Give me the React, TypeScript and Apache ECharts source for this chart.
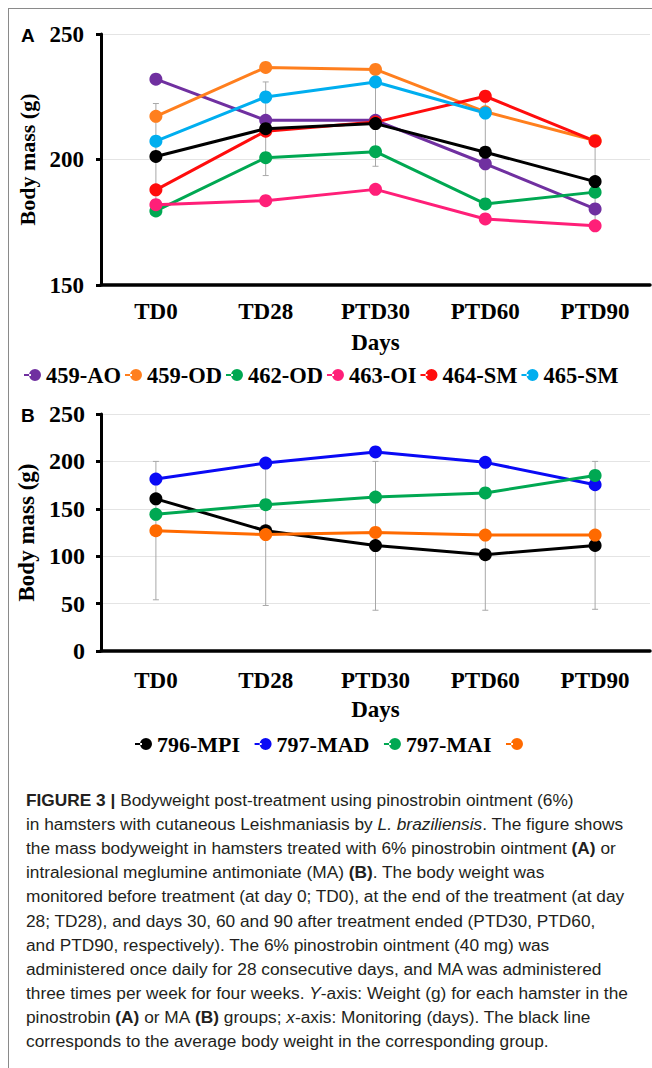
import React, { useEffect, useRef } from "react";
import * as echarts from "echarts";

// ---------- data ----------
const categories = ["TD0", "TD28", "PTD30", "PTD60", "PTD90"];

// Panel A (pinostrobin)
const namesA = ["459-AO", "459-OD", "462-OD", "463-OI", "464-SM", "465-SM"];
const colorsA = ["#7030A0", "#FF7F1E", "#00A852", "#FF1F78", "#FF0D0D", "#00AEEF"];
const a459AO = [232, 215.6, 215.6, 198.3, 180.3];
const a459OD = [217.2, 236.7, 235.9, 219, 207.6];
const a462OD = [179.5, 200.7, 203.1, 182.3, 187];
const a463OI = [182, 183.6, 188.1, 176.3, 173.6];
const a464SM = [187.9, 211.3, 214.9, 225.2, 207.3];
const a465SM = [207.3, 224.9, 230.9, 218.5, null];
const meanA = [201.2, 212.3, 214.3, 202.9, 191.2];
const errLowA = [180.2, 193.6, 197.3, 182.4, 174.6];
const errHighA = [222.3, 230.9, 231.3, 223.4, 207.8];
const ticksA = { min: 150, max: 250, step: 50 };

// Panel B (meglumine antimoniate)
const namesB = ["796-MPI", "797-MAD", "797-MAI", " "];
const colorsB = ["#000000", "#0A0AF5", "#00A852", "#FF6A00"];
const b796MPI = [160.5, 126.8, 111.2, 101.6, 111.4];
const b797MAD = [181.4, 198.3, 210, 199, 175.4];
const b797MAI = [144.2, 154.3, 162.4, 166.7, 185.2];
const b798 = [126.9, 122.8, 125.1, 122.3, 122.3];
const errLowB = [54, 48, 43, 43, 44];
const errHighB = [200, 200, 200, 200, 200];
const ticksB = { min: 0, max: 250, step: 50 };

// caption (segments: n = normal, b = bold, i = italic)
const captionLines: [string, string][][] = [
  [["b", "FIGURE 3 | "], ["n", "Bodyweight post-treatment using pinostrobin ointment (6%)"]],
  [["n", "in hamsters with cutaneous Leishmaniasis by "], ["i", "L. braziliensis"], ["n", ". The figure shows"]],
  [["n", "the mass bodyweight in hamsters treated with 6% pinostrobin ointment "], ["b", "(A)"], ["n", " or"]],
  [["n", "intralesional meglumine antimoniate (MA) "], ["b", "(B)"], ["n", ". The body weight was"]],
  [["n", "monitored before treatment (at day 0; TD0), at the end of the treatment (at day"]],
  [["n", "28; TD28), and days 30, 60 and 90 after treatment ended (PTD30, PTD60,"]],
  [["n", "and PTD90, respectively). The 6% pinostrobin ointment (40 mg) was"]],
  [["n", "administered once daily for 28 consecutive days, and MA was administered"]],
  [["n", "three times per week for four weeks. "], ["i", "Y"], ["n", "-axis: Weight (g) for each hamster in the"]],
  [["n", "pinostrobin "], ["b", "(A)"], ["n", " or MA "], ["b", "(B)"], ["n", " groups; "], ["i", "x"], ["n", "-axis: Monitoring (days). The black line"]],
  [["n", "corresponds to the average body weight in the corresponding group."]],
];

// ---------- styling ----------
const SERIF = "'Liberation Serif', 'Times New Roman', serif";
const SANS = "'Liberation Sans', Arial, sans-serif";
const ICON = "path://M0,5h7v2h-7z M5,6a6,6 0 1,0 12,0a6,6 0 1,0 -12,0z";

function boldSerif(size: number) {
  return { fontFamily: SERIF, fontWeight: "bold", fontSize: size, color: "#000" };
}

function errorBars(low: number[], high: number[], axis: number) {
  return {
    type: "custom",
    xAxisIndex: axis,
    yAxisIndex: axis,
    silent: true,
    z: 1,
    encode: { x: 0, y: [1, 2] },
    data: categories.map((_, i) => [i, low[i], high[i]]),
    renderItem: (params: any, api: any) => {
      const x = api.value(0);
      const lo = api.coord([x, api.value(1)]);
      const hi = api.coord([x, api.value(2)]);
      const c = 3;
      const style = { stroke: "#a8a8a8", lineWidth: 1 };
      return {
        type: "group",
        children: [
          { type: "line", shape: { x1: lo[0], y1: lo[1], x2: hi[0], y2: hi[1] }, style },
          { type: "line", shape: { x1: lo[0] - c, y1: lo[1], x2: lo[0] + c, y2: lo[1] }, style },
          { type: "line", shape: { x1: hi[0] - c, y1: hi[1], x2: hi[0] + c, y2: hi[1] }, style },
        ],
      };
    },
  };
}

function lineSeries(name: string, data: (number | null)[], color: string, axis: number, z: number) {
  return {
    type: "line",
    name,
    data,
    xAxisIndex: axis,
    yAxisIndex: axis,
    symbol: "circle",
    symbolSize: 13,
    connectNulls: false,
    z,
    lineStyle: { width: 3, color },
    itemStyle: { color },
  };
}

function xAxisCfg(grid: number, margin: number, nameGap: number) {
  return {
    gridIndex: grid,
    type: "category",
    data: categories,
    boundaryGap: true,
    axisLine: { show: true, onZero: false, lineStyle: { color: "#000", width: 3.5 } },
    axisTick: { show: false },
    axisLabel: { ...boldSerif(23), margin, lineHeight: 23 },
    splitLine: { show: false },
    name: "Days",
    nameLocation: "middle",
    nameGap,
    nameTextStyle: { ...boldSerif(23), lineHeight: 23 },
  };
}

function yAxisCfg(grid: number, t: { min: number; max: number; step: number }, labelSize: number, nameSize: number, margin: number, nameGap: number) {
  return {
    gridIndex: grid,
    type: "value",
    min: t.min,
    max: t.max,
    interval: t.step,
    name: "Body mass (g)",
    nameLocation: "middle",
    nameRotate: 90,
    nameGap,
    nameTextStyle: boldSerif(nameSize),
    axisLine: { show: true, lineStyle: { color: "#000", width: 3 } },
    axisTick: { show: true, inside: false, length: 5, lineStyle: { color: "#000", width: 3 } },
    axisLabel: { ...boldSerif(labelSize), margin },
    splitLine: { show: true, lineStyle: { color: "#e4e4e4", width: 1 } },
  };
}

function captionGraphics() {
  const base = { fontFamily: SANS, fontSize: 17.3, fill: "#231f20" };
  const rich = {
    n: { fontFamily: SANS, fontSize: 17.3, color: "#231f20" },
    b: { fontFamily: SANS, fontSize: 17.3, color: "#231f20", fontWeight: "bold" },
    i: { fontFamily: SANS, fontSize: 17.3, color: "#231f20", fontStyle: "italic" },
  };
  return captionLines.map((segs, k) => ({
    type: "text",
    x: 26,
    y: 800 + k * 24.1,
    style: {
      ...base,
      text: segs.map(([s, t]) => `{${s}|${t}}`).join(""),
      rich,
      verticalAlign: "middle",
      align: "left",
    },
  }));
}

export default function App() {
  const ref = useRef<HTMLDivElement>(null);

  useEffect(() => {
    document.body.style.margin = "0";
    if (!ref.current) return;
    const chart = echarts.init(ref.current, undefined, { renderer: "svg" });

    const seriesA = [a459AO, a459OD, a462OD, a463OI, a464SM, a465SM];
    const seriesB = [b796MPI, b797MAD, b797MAI, b798];

    const option: any = {
      animation: false,
      backgroundColor: "#fff",
      grid: [
        { left: 101, right: 2, top: 34, height: 251, containLabel: false },
        { left: 101, right: 2, top: 414, height: 237, containLabel: false },
      ],
      xAxis: [xAxisCfg(0, 14.5, 46), xAxisCfg(1, 17.5, 47)],
      yAxis: [
        yAxisCfg(0, ticksA, 23, 22, 17, 56),
        yAxisCfg(1, ticksB, 24, 23, 16, 56),
      ],
      legend: [
        {
          data: namesA,
          left: 24,
          top: 363,
          orient: "horizontal",
          padding: 0,
          itemWidth: 17,
          itemHeight: 12,
          itemGap: 4,
          icon: ICON,
          selectedMode: false,
          textStyle: { ...boldSerif(22.5), lineHeight: 24 },
        },
        {
          data: namesB,
          left: 135,
          top: 732,
          orient: "horizontal",
          padding: 0,
          itemWidth: 17,
          itemHeight: 12,
          itemGap: 14.5,
          icon: ICON,
          selectedMode: false,
          textStyle: { ...boldSerif(22), lineHeight: 24 },
        },
      ],
      series: [
        errorBars(errLowA, errHighA, 0),
        ...seriesA.map((d, i) => lineSeries(namesA[i], d, colorsA[i], 0, 2)),
        lineSeries("Mean (A)", meanA, "#000000", 0, 3),
        errorBars(errLowB, errHighB, 1),
        ...seriesB.map((d, i) => lineSeries(namesB[i], d, colorsB[i], 1, 2)),
      ],
      graphic: [
        { type: "line", silent: true, shape: { x1: 8, y1: 8.5, x2: 652, y2: 8.5 }, style: { stroke: "#8a8a8a", lineWidth: 1 } },
        { type: "line", silent: true, shape: { x1: 8.5, y1: 8, x2: 8.5, y2: 1068 }, style: { stroke: "#8a8a8a", lineWidth: 1 } },
        { type: "text", x: 21, y: 35, style: { text: "A", fontFamily: SANS, fontWeight: "bold", fontSize: 19, fill: "#000", verticalAlign: "middle" } },
        { type: "text", x: 21, y: 415, style: { text: "B", fontFamily: SANS, fontWeight: "bold", fontSize: 19, fill: "#000", verticalAlign: "middle" } },
        ...captionGraphics(),
      ],
    };

    chart.setOption(option);
    return () => chart.dispose();
  }, []);

  return <div ref={ref} style={{ width: 652, height: 1068 }} />;
}
